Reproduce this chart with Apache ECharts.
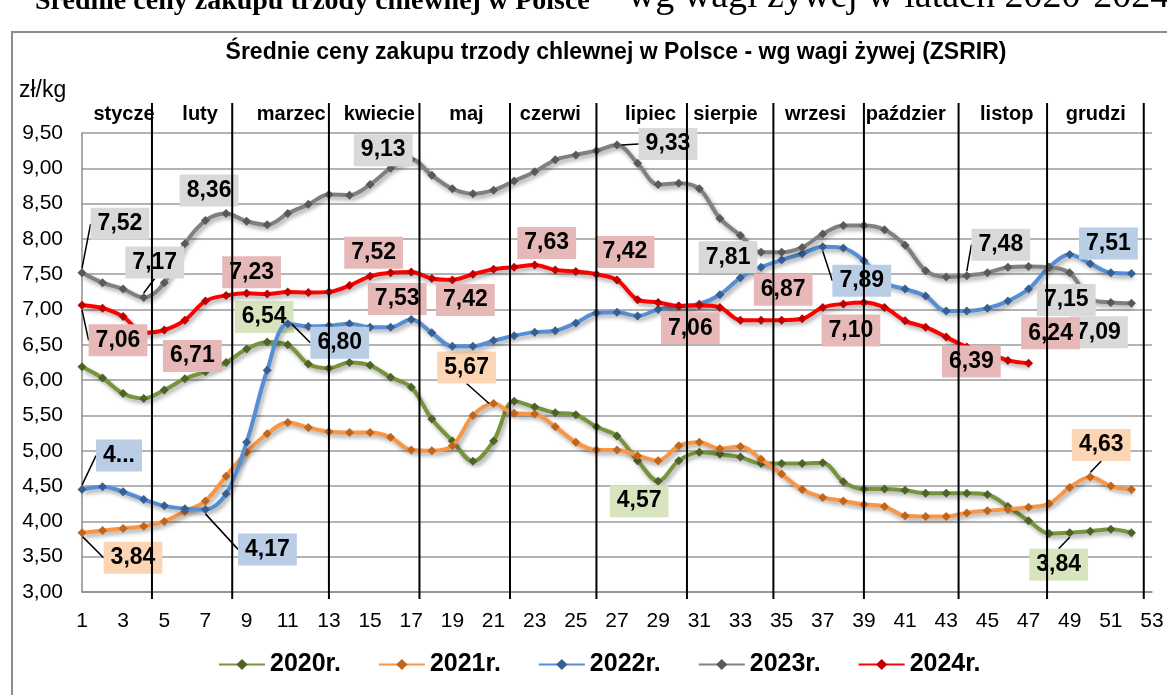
<!DOCTYPE html>
<html>
<head>
<meta charset="utf-8">
<title>Średnie ceny zakupu trzody chlewnej</title>
<script src="https://cdn.jsdelivr.net/npm/echarts@6/dist/echarts.min.js"></script>
<style>
html, body { margin: 0; padding: 0; background: #fff; }
#chart { width: 1167px; height: 695px; }
</style>
</head>
<body>
<div id="chart"></div>
<script>
// tygodnie 1..53
var weeks = ['1','2','3','4','5','6','7','8','9','10','11','12','13','14','15','16','17','18','19','20',
    '21','22','23','24','25','26','27','28','29','30','31','32','33','34','35','36','37','38','39','40',
    '41','42','43','44','45','46','47','48','49','50','51','52','53'];

var v2020 = [6.19,6.03,5.81,5.74,5.86,6.02,6.12,6.25,6.44,6.54,6.50,6.23,6.17,6.25,6.21,6.04,5.90,5.45,5.14,4.85,
    5.14,5.70,5.62,5.54,5.51,5.34,5.21,4.86,4.57,4.86,4.98,4.95,4.91,4.82,4.82,4.82,4.83,4.56,4.46,4.46,
    4.44,4.40,4.40,4.40,4.38,4.21,4.01,3.83,3.84,3.86,3.89,3.84];
var v2021 = [3.84,3.87,3.90,3.93,4.00,4.14,4.29,4.64,4.98,5.24,5.40,5.33,5.27,5.26,5.26,5.19,5.01,5.00,5.07,5.50,
    5.67,5.53,5.52,5.34,5.12,5.01,5.01,4.93,4.86,5.07,5.12,5.03,5.06,4.88,4.67,4.45,4.34,4.29,4.24,4.21,
    4.08,4.07,4.07,4.12,4.15,4.17,4.20,4.25,4.48,4.63,4.50,4.45];
var v2022 = [4.45,4.49,4.42,4.31,4.22,4.18,4.17,4.39,5.12,6.14,6.80,6.76,6.77,6.80,6.75,6.75,6.86,6.67,6.48,6.48,
    6.56,6.63,6.68,6.70,6.81,6.95,6.96,6.91,7.00,7.05,7.08,7.21,7.45,7.60,7.70,7.79,7.89,7.87,7.69,7.38,
    7.29,7.19,6.98,6.98,7.02,7.12,7.29,7.60,7.78,7.65,7.52,7.51];
var v2023 = [7.52,7.38,7.29,7.17,7.38,7.93,8.26,8.36,8.25,8.20,8.36,8.49,8.63,8.62,8.77,9.00,9.13,8.90,8.71,8.64,
    8.69,8.82,8.95,9.12,9.19,9.25,9.33,9.07,8.77,8.79,8.71,8.29,8.05,7.81,7.81,7.88,8.07,8.19,8.19,8.13,
    7.91,7.55,7.46,7.48,7.52,7.60,7.61,7.60,7.52,7.15,7.10,7.09];
var v2024 = [7.06,7.02,6.90,6.67,6.71,6.85,7.12,7.20,7.23,7.22,7.25,7.24,7.25,7.34,7.47,7.52,7.53,7.44,7.42,7.50,
    7.57,7.60,7.63,7.56,7.54,7.50,7.42,7.14,7.10,7.05,7.06,7.03,6.85,6.85,6.85,6.87,7.03,7.08,7.10,7.03,
    6.84,6.75,6.61,6.47,6.39,6.28,6.24];

// miesiace: granice i srodki napisow (w tygodniach)
var months = ['stycze','luty','marzec','kwiecie','maj','czerwi','lipiec','sierpie','wrzesi','paździer','listop','grudzi'];
var monthEdges = [4.4, 8.3, 13.0, 17.4, 21.8, 26.0, 30.4, 34.6, 39.0, 43.6, 47.9, 52.6];
var monthCenters = [3.04, 6.74, 11.17, 15.45, 19.68, 23.76, 28.63, 32.27, 36.65, 41.03, 45.94, 50.27];

// etykiety danych: tydzien + przesuniecie (px)
var spots = {
    '2020r.': [{w:10, dx:-3, dy:-25}, {w:29, dx:-19, dy:20}, {w:49, dx:-11, dy:32, line:true}],
    '2021r.': [{w:1, dx:51, dy:25, line:true}, {w:21, dx:-27, dy:-36, line:true}, {w:50, dx:11, dy:-32, line:true}],
    '2022r.': [{w:1, dx:37, dy:-34, line:true, text:'4...'}, {w:7, dx:62, dy:40, line:true}, {w:11, dx:52, dy:19, line:true},
               {w:37, dx:39, dy:34, line:true}, {w:52, dx:-23, dy:-30}],
    '2023r.': [{w:1, dx:38, dy:-49, line:true}, {w:4, dx:11, dy:-35, line:true}, {w:8, dx:-17, dy:-23}, {w:17, dx:-28, dy:-9},
               {w:27, dx:51, dy:-1, line:true}, {w:34, dx:-33, dy:5}, {w:44, dx:34, dy:-31, line:true},
               {w:50, dx:-24, dy:1}, {w:52, dx:-33, dy:29}],
    '2024r.': [{w:1, dx:36, dy:35, line:true}, {w:5, dx:28, dy:26}, {w:9, dx:5, dy:-21}, {w:16, dx:-17, dy:-20},
               {w:17, dx:-14, dy:27}, {w:19, dx:13, dy:20}, {w:23, dx:12, dy:-22}, {w:27, dx:8, dy:-28},
               {w:31, dx:-9, dy:23}, {w:36, dx:-19, dy:-29}, {w:39, dx:-13, dy:28}, {w:45, dx:-16, dy:9},
               {w:47, dx:22, dy:-30}]
};

var styles = [
    {name:'2020r.', values:v2020, color:'#77933c', mark:'#4f6228', box:'#d7e4bd'},
    {name:'2021r.', values:v2021, color:'#f79646', mark:'#c0651c', box:'#fcd5b5'},
    {name:'2022r.', values:v2022, color:'#558ed5', mark:'#376092', box:'#b9cde5'},
    {name:'2023r.', values:v2023, color:'#808080', mark:'#595959', box:'#d9d9d9'},
    {name:'2024r.', values:v2024, color:'#ff0000', mark:'#c00000', box:'#e6b9b8'}
];

var font = 'Liberation Sans, Arial, sans-serif';
var serif = 'Liberation Serif, Times New Roman, serif';

function fmt(v) {
    return v.toFixed(2).replace('.', ',');
}

function findSpot(name, idx) {
    var list = spots[name];
    for (var k = 0; k < list.length; k++) {
        if (list[k].w === idx + 1) return list[k];
    }
    return null;
}

function buildData(s) {
    return s.values.map(function (v, i) {
        var spot = findSpot(s.name, i);
        if (!spot) return v;
        return {
            value: v,
            label: {
                show: true,
                formatter: spot.text ? spot.text : fmt(v)
            },
            labelLine: {show: !!spot.line}
        };
    });
}

var series = styles.map(function (s, si) {
    return {
        name: s.name,
        type: 'line',
        xAxisIndex: 0,
        yAxisIndex: 0,
        smooth: 0.35,
        data: buildData(s),
        symbol: 'diamond',
        symbolSize: 9,
        z: 2 + si,
        lineStyle: {
            color: s.color, width: 4,
            shadowColor: 'rgba(0,0,0,0.35)', shadowBlur: 4, shadowOffsetX: 2, shadowOffsetY: 3
        },
        itemStyle: {color: s.mark, borderWidth: 0},
        label: {
            show: false,
            position: 'inside',
            fontFamily: font,
            fontSize: 23,
            fontWeight: 'bold',
            color: '#000',
            backgroundColor: s.box,
            padding: [5, 7, 4, 7]
        },
        labelLine: {
            show: false,
            lineStyle: {color: '#000', width: 1.5}
        },
        labelLayout: function (params) {
            var spot = findSpot(s.name, params.dataIndex);
            return spot ? {dx: spot.dx, dy: spot.dy} : {};
        },
        emphasis: {disabled: true},
        animation: false
    };
});

// pionowe linie miesiecy
series.push({
    type: 'custom',
    xAxisIndex: 1,
    yAxisIndex: 1,
    z: 20,
    silent: true,
    data: monthEdges.map(function (e) { return [e]; }),
    renderItem: function (params, api) {
        var x = api.coord([api.value(0), 0])[0];
        var cs = params.coordSys;
        return {
            type: 'line',
            shape: {x1: x, y1: cs.y, x2: x, y2: cs.y + cs.height},
            style: {stroke: '#000', lineWidth: 2}
        };
    },
    animation: false
});

// nazwy miesiecy
series.push({
    type: 'custom',
    xAxisIndex: 1,
    yAxisIndex: 1,
    z: 21,
    silent: true,
    data: monthCenters.map(function (c) { return [c]; }),
    renderItem: function (params, api) {
        var x = api.coord([api.value(0), 0])[0];
        var cs = params.coordSys;
        return {
            type: 'text',
            style: {
                x: x, y: cs.y + 11,
                text: months[params.dataIndex],
                align: 'center', verticalAlign: 'middle',
                font: 'bold 20px ' + font,
                fill: '#000'
            }
        };
    },
    animation: false
});

var chart = echarts.init(document.getElementById('chart'));

var option = {
    backgroundColor: '#fff',
    animation: false,
    textStyle: {fontFamily: font},
    title: {
        text: 'Średnie ceny zakupu trzody chlewnej w Polsce - wg wagi żywej (ZSRIR)',
        left: 611,
        textAlign: 'center',
        top: 36,
        textStyle: {fontFamily: font, fontSize: 23, fontWeight: 'bold', color: '#000'}
    },
    graphic: [
        {
            type: 'text',
            left: 35,
            top: -22,
            style: {
                text: '{b|Średnie ceny zakupu trzody chlewnej w Polsce}{n| – wg wagi żywej w latach 2020-2024}',
                rich: {
                    b: {fontFamily: serif, fontSize: 28, fontWeight: 'bold', fill: '#000', verticalAlign: 'bottom'},
                    n: {fontFamily: serif, fontSize: 38, fill: '#000', verticalAlign: 'bottom'}
                }
            }
        },
        {
            type: 'rect',
            shape: {x: 12, y: 32, width: 1170, height: 700},
            style: {fill: 'none', stroke: '#8c8c8c', lineWidth: 2},
            silent: true
        },
        {
            type: 'text',
            left: 19,
            top: 79,
            style: {text: 'zł/kg', font: '23px ' + font, fill: '#000'}
        }
    ],
    legend: {
        left: 213,
        top: 647,
        itemWidth: 46,
        itemHeight: 14,
        itemGap: 37,
        data: styles.map(function (s) { return s.name; }),
        textStyle: {fontFamily: font, fontSize: 25, fontWeight: 'bold', color: '#000'}
    },
    grid: [
        {left: 82, right: 15, top: 133, bottom: 103},
        {left: 82, right: 15, top: 103, bottom: 96}
    ],
    xAxis: [
        {
            type: 'category',
            data: weeks,
            boundaryGap: false,
            gridIndex: 0,
            axisLine: {lineStyle: {color: '#8c8c8c', width: 1.5}},
            axisTick: {show: false},
            axisLabel: {interval: 1, color: '#000', fontSize: 21, fontFamily: font, margin: 19},
            splitLine: {show: false}
        },
        {
            type: 'value',
            gridIndex: 1,
            min: 1,
            max: 53,
            show: false
        }
    ],
    yAxis: [
        {
            type: 'value',
            gridIndex: 0,
            min: 3,
            max: 9.5,
            interval: 0.5,
            axisLine: {show: true, lineStyle: {color: '#8c8c8c', width: 1.5}},
            axisTick: {show: false},
            axisLabel: {color: '#000', fontSize: 21, fontFamily: font, margin: 19, formatter: fmt},
            splitLine: {lineStyle: {color: '#9a9a9a', width: 1.5}}
        },
        {
            type: 'value',
            gridIndex: 1,
            min: 0,
            max: 1,
            show: false
        }
    ],
    series: series
};

chart.setOption(option);
</script>
</body>
</html>
